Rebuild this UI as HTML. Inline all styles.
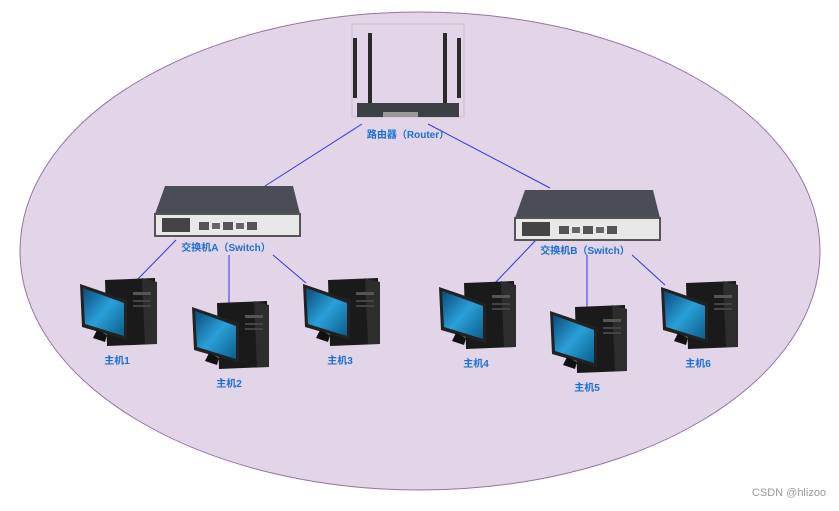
<!DOCTYPE html>
<html><head><meta charset="utf-8"><style>
body{margin:0;background:#fff;width:839px;height:506px;overflow:hidden}
text{font-family:"Liberation Sans","Noto Sans CJK SC",sans-serif;font-size:10px;font-weight:bold;fill:#1a6fd8;text-anchor:middle}
</style></head><body>
<svg width="839" height="506" viewBox="0 0 839 506">
<defs>
<linearGradient id="scr" x1="0" y1="0" x2="1" y2="1"><stop offset="0" stop-color="#0a4a7a"/><stop offset="0.5" stop-color="#2aa0d8"/><stop offset="1" stop-color="#0a5d8a"/></linearGradient>
<g id="pc">
<polygon points="-12,-80 38,-82 40,-16 -10,-14" fill="#1a1a1a"/>
<polygon points="25,-82 40,-78 40,-16 28,-16" fill="#2d2d2d"/>
<polygon points="-37,-76 10,-60 10,-20 -35,-33" fill="#222"/>
<polygon points="-34,-72 7,-57 7,-24 -32,-36" fill="url(#scr)"/>
<polygon points="-20,-30 -10,-25 -12,-18 -24,-22" fill="#111"/>
<rect x="16" y="-68" width="18" height="3" fill="#555"/>
<rect x="16" y="-60" width="18" height="2" fill="#444"/>
<rect x="16" y="-55" width="18" height="2" fill="#444"/>
</g>
<g id="sw">
<polygon points="0,0 10,-28 138,-28 145,0" fill="#4a4d56"/>
<rect x="0" y="0" width="145" height="22" fill="#e8e8e8" stroke="#555" stroke-width="2"/>
<rect x="7" y="4" width="28" height="14" fill="#444"/>
<rect x="44" y="8" width="10" height="8" fill="#555"/>
<rect x="57" y="9" width="8" height="6" fill="#666"/>
<rect x="68" y="8" width="10" height="8" fill="#555"/>
<rect x="81" y="9" width="8" height="6" fill="#666"/>
<rect x="92" y="8" width="10" height="8" fill="#555"/>
</g>
</defs>
<ellipse cx="420" cy="251" rx="400" ry="239" fill="#e1d5e7" stroke="#9673a6" stroke-width="1"/>
<g stroke="#3333ee" stroke-width="1">
<line x1="362" y1="124" x2="265" y2="186"/><line x1="428" y1="124" x2="550" y2="188"/>
<line x1="176" y1="240" x2="137" y2="280"/><line x1="229" y1="255" x2="229" y2="305"/><line x1="273" y1="255" x2="306" y2="283"/>
<line x1="536" y1="240" x2="495" y2="283"/><line x1="587" y1="255" x2="587" y2="308"/><line x1="632" y1="255" x2="665" y2="285"/>
</g>
<rect x="352" y="24" width="112" height="93" fill="none" stroke="#c8c0cc"/>
<g fill="#2a2a2a">
<rect x="353" y="38" width="4" height="60"/><rect x="368" y="33" width="4" height="70"/>
<rect x="443" y="33" width="4" height="70"/><rect x="457" y="38" width="4" height="60"/>
<rect x="357" y="103" width="102" height="14" fill="#3c3f44"/>
</g>
<rect x="383" y="112" width="35" height="5" fill="#999"/>
<text x="408" y="138">路由器（Router）</text>
<use href="#sw" transform="translate(155,214)"/>
<use href="#sw" transform="translate(515,218)"/>
<text x="226" y="251">交换机A（Switch）</text>
<text x="585" y="254">交换机B（Switch）</text>
<use href="#pc" transform="translate(117,360)"/><text x="117" y="364">主机1</text>
<use href="#pc" transform="translate(229,383)"/><text x="229" y="387">主机2</text>
<use href="#pc" transform="translate(340,360)"/><text x="340" y="364">主机3</text>
<use href="#pc" transform="translate(476,363)"/><text x="476" y="367">主机4</text>
<use href="#pc" transform="translate(587,387)"/><text x="587" y="391">主机5</text>
<use href="#pc" transform="translate(698,363)"/><text x="698" y="367">主机6</text>
<text x="789" y="496" style="font-weight:normal;fill:#999;font-size:11px">CSDN @hlizoo</text>
</svg>
</body></html>
